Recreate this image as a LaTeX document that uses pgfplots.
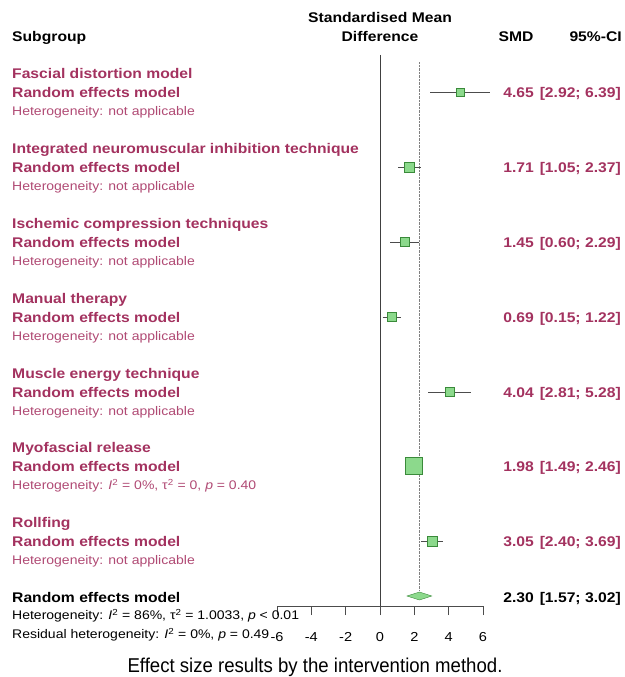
\documentclass[border=0pt]{standalone}
\usepackage{pgfplots}
\pgfplotsset{compat=1.18}
\usepackage{fontspec}
\setmainfont{Liberation Sans}[FakeStretch=1.12]
\newfontfamily\capf{Liberation Sans}[FakeStretch=0.93]
\definecolor{mar}{HTML}{A3325F}
\definecolor{marl}{HTML}{B04A74}
\definecolor{boxg}{HTML}{8CD98C}
\definecolor{boxd}{HTML}{3A8A3A}
\newcommand{\bigf}{\bfseries\fontsize{14}{16}\selectfont}
\newcommand{\smf}{\fontsize{12.5}{14}\selectfont}
% #1 y of title line, #2 title, #3 smd, #4 ci, #5 heterogeneity text
\newcommand{\grp}[5]{%
  \node[anchor=base west, inner sep=0, font=\bigf, text=mar] at (12,#1+5) {#2};
  \node[anchor=base west, inner sep=0, font=\bigf, text=mar] at (12,#1+19+5) {Random effects model};
  \node[anchor=base west, inner sep=0, font=\smf, text=marl] at (12,#1+38+4.5) {#5};
  \node[anchor=base east, inner sep=0, font=\bigf, text=mar] at (534,#1+19+5) {#3};
  \node[anchor=base east, inner sep=0, font=\bigf, text=mar] at (621,#1+19+5) {#4};
}
\begin{document}
\begin{tikzpicture}
\begin{axis}[at={(277pt,-606pt)}, anchor=south west, scale only axis,
  width=206pt, height=606pt, xmin=-6, xmax=6, ymin=-606, ymax=0,
  axis x line*=bottom, hide y axis, axis line style={-, black!70, line width=0.7pt},
  xtick={-6,-4,...,6}, tick align=outside, major tick length=9pt,
  major tick style={black!70, line width=0.7pt},
  xticklabel style={font=\fontsize{13}{15}\selectfont, yshift=-14pt},
  /pgf/number format/assume math mode=true, clip=false]
\addplot[black!75] coordinates {(0,-55) (0,-606)};
\addplot[gray, densely dotted] coordinates {(2.30,-62) (2.30,-590)};
% study boxes
\addplot[only marks, mark=square*, mark size=4pt, mark options={fill=boxg, draw=boxd}] coordinates {(4.65,-92)};
\addplot[only marks, mark=square*, mark size=5pt, mark options={fill=boxg, draw=boxd}] coordinates {(1.71,-167)};
\addplot[only marks, mark=square*, mark size=4.5pt, mark options={fill=boxg, draw=boxd}] coordinates {(1.45,-242)};
\addplot[only marks, mark=square*, mark size=4.5pt, mark options={fill=boxg, draw=boxd}] coordinates {(0.69,-317)};
\addplot[only marks, mark=square*, mark size=4.5pt, mark options={fill=boxg, draw=boxd}] coordinates {(4.04,-392)};
\addplot[only marks, mark=square*, mark size=8.5pt, mark options={fill=boxg, draw=boxd}] coordinates {(1.98,-466)};
\addplot[only marks, mark=square*, mark size=5pt, mark options={fill=boxg, draw=boxd}] coordinates {(3.05,-541)};
% confidence intervals
\addplot[black!70] coordinates {(2.92,-92) (6.39,-92)};
\addplot[black!70] coordinates {(1.05,-167) (2.37,-167)};
\addplot[black!70] coordinates {(0.60,-242) (2.29,-242)};
\addplot[black!70] coordinates {(0.15,-317) (1.22,-317)};
\addplot[black!70] coordinates {(2.81,-392) (5.28,-392)};
\addplot[black!70] coordinates {(1.49,-466) (2.46,-466)};
\addplot[black!70] coordinates {(2.40,-541) (3.69,-541)};
% pooled diamond
\addplot[fill=boxg, draw=boxd] coordinates {(1.57,-596) (2.30,-592) (3.02,-596) (2.30,-600)} -- cycle;
\end{axis}
\begin{scope}[x=1pt, y=-1pt]
\path (0,0) rectangle (624,677);
\node[anchor=base west, inner sep=0, font=\bigf] at (12,37+5) {Subgroup};
\node[anchor=base, inner sep=0, font=\bigf] at (380,18+5) {Standardised Mean};
\node[anchor=base, inner sep=0, font=\bigf] at (380,37+5) {Difference};
\node[anchor=base, inner sep=0, font=\bigf] at (516,37+5) {SMD};
\node[anchor=base east, inner sep=0, font=\bigf] at (622,37+5) {95\%-CI};
\grp{73}{Fascial distortion model}{4.65}{[2.92; 6.39]}{Heterogeneity: not applicable}
\grp{148}{Integrated neuromuscular inhibition technique}{1.71}{[1.05; 2.37]}{Heterogeneity: not applicable}
\grp{223}{Ischemic compression techniques}{1.45}{[0.60; 2.29]}{Heterogeneity: not applicable}
\grp{298}{Manual therapy}{0.69}{[0.15; 1.22]}{Heterogeneity: not applicable}
\grp{373}{Muscle energy technique}{4.04}{[2.81; 5.28]}{Heterogeneity: not applicable}
\grp{447}{Myofascial release}{1.98}{[1.49; 2.46]}{Heterogeneity: \textit{I}\textsuperscript{2} = 0\%, τ\textsuperscript{2} = 0, \textit{p} = 0.40}
\grp{522}{Rollfing}{3.05}{[2.40; 3.69]}{Heterogeneity: not applicable}
\node[anchor=base west, inner sep=0, font=\bigf] at (12,597+5) {Random effects model};
\node[anchor=base east, inner sep=0, font=\bigf] at (534,597+5) {2.30};
\node[anchor=base east, inner sep=0, font=\bigf] at (621,597+5) {[1.57; 3.02]};
\node[anchor=base west, inner sep=0, font=\smf] at (12,615+4.5) {Heterogeneity: \textit{I}\textsuperscript{2} = 86\%, τ\textsuperscript{2} = 1.0033, \textit{p} < 0.01};
\node[anchor=base west, inner sep=0, font=\smf] at (12,634+4.5) {Residual heterogeneity: \textit{I}\textsuperscript{2} = 0\%, \textit{p} = 0.49};
\node[anchor=base, inner sep=0, font=\capf\fontsize{20}{22}\selectfont] at (315,672) {Effect size results by the intervention method.};
\end{scope}
\end{tikzpicture}
\end{document}
